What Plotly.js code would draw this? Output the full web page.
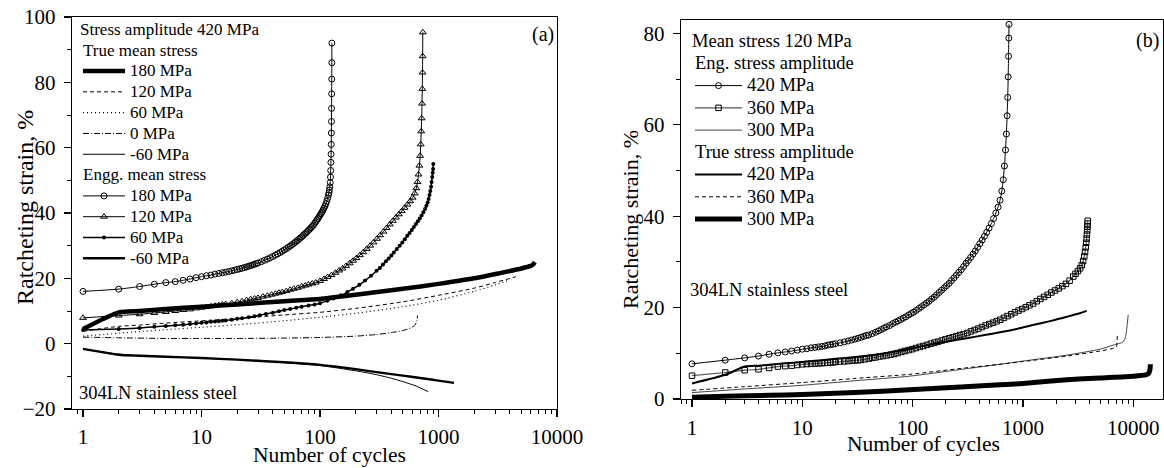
<!DOCTYPE html>
<html>
<head>
<meta charset="utf-8">
<script src="https://cdn.plot.ly/plotly-3.0.1.min.js"></script>
<style>html,body{margin:0;padding:0;background:#fff;}#chart{width:1164px;height:468px;}</style>
</head>
<body>
<div id="chart"></div>
<script>
// ---------------- DATA ----------------
// Panel (a): stress amplitude 420 MPa
const aTrue180_N = [1,2,3,5,10,20,50,100,200,500,1000,2000,3300,5000,6000,6300,6500];
const aTrue180_S = [4.5,9.6,10.0,10.6,11.3,12.0,13.0,13.7,15.0,16.8,18.3,20.0,21.6,23.0,23.8,24.3,25.0];
const aTrue120_N = [1,2,3,5,10,20,50,100,200,500,1000,2000,3000,4500];
const aTrue120_S = [3.8,5.3,5.7,6.3,7.0,7.7,8.8,9.6,10.8,12.8,14.8,17.0,18.7,20.5];
const aTrue60_N = [1,2,3,5,10,20,50,100,200,500,1000,2000,3000,4000];
const aTrue60_S = [2.3,3.2,3.7,4.3,5.0,5.8,7.0,8.1,9.3,11.3,13.3,16.0,18.0,19.5];
const aTrue0_N = [1,2,5,10,20,50,100,200,300,400,500,580,630,655,665];
const aTrue0_S = [2.0,1.8,1.6,1.6,1.6,1.7,1.9,2.3,2.8,3.4,4.0,4.8,5.6,6.8,8.6];
const aTrueM60_N = [1,2,3,5,10,20,50,100,200,300,400,500,650,820];
const aTrueM60_S = [-1.6,-3.2,-3.6,-4.0,-4.4,-4.9,-5.8,-6.7,-8.3,-9.5,-10.6,-11.6,-13.0,-14.7];

const aEngg180_N = [1,2,3,4,5,6,7,8,9,10,11,12,13,14,15,16,17,18,19,20,21,22,23,24,25,26,27,28,29,30,32,34,36,38,40,42,44,46,48,50,52,54,56,58,60,62,64,66,68,70,72,74,76,78,80,82,84,86,88,90,92,94,96,98,100,102,104,106,108,110,112,114,116,118,119,120,121,122,122.6,123.1,123.6,124.0,124.4,124.7,125.0,125.2,125.4,125.6,125.8,126];
const aEngg180_S = [16.0,16.7,17.5,18.2,18.7,19.0,19.4,19.8,20.2,20.5,20.8,21.0,21.3,21.5,21.7,21.9,22.1,22.3,22.5,22.7,22.9,23.1,23.3,23.5,23.7,23.9,24.1,24.3,24.5,24.7,25.1,25.5,25.9,26.3,26.7,27.1,27.5,27.9,28.3,28.7,29.1,29.5,29.9,30.3,30.7,31.1,31.5,31.9,32.3,32.7,33.1,33.5,33.9,34.3,34.7,35.1,35.5,35.9,36.3,36.8,37.3,37.8,38.3,38.8,39.3,39.8,40.3,40.9,41.5,42.1,42.8,43.6,44.5,45.5,46.2,47,48,49.3,51,53,55.5,58,61,64.5,68,72,76.5,81,86,92];
const aEngg120_N = [1,2,3,4,5,6,7,8,9,10,11,12,13,14,15,16,18,20,22,24,26,28,30,33,36,39,42,45,48,52,56,60,65,70,75,80,86,92,100,108,116,125,135,145,155,166,178,190,203,217,232,248,265,283,302,322,343,365,388,412,437,463,490,518,547,577,605,630,650,665,678,690,700,708,715,721,726,730,733,735,737];
const aEngg120_S = [7.9,8.6,9.0,9.4,9.7,10.0,10.3,10.5,10.8,11.0,11.2,11.4,11.6,11.8,12.0,12.1,12.4,12.7,13.0,13.3,13.6,13.8,14.0,14.4,14.7,15.0,15.3,15.6,15.8,16.1,16.5,16.8,17.1,17.5,17.8,18.1,18.4,18.7,19.2,19.8,20.4,21.0,21.7,22.4,23.0,23.8,24.6,25.4,26.2,27.1,28.0,29.0,30.0,31.0,32.1,33.2,34.3,35.4,36.5,37.6,38.6,39.6,40.6,41.6,42.6,43.6,44.7,46,47.6,49.5,51.8,54.5,57.5,61,65,69,73.5,78,83,88,95.3];
const aEngg60_N = [1,2,3,4,5,6,7,8,9,10,11,12,13,14,15,16,18,20,22,25,28,31,35,40,45,50,56,63,70,80,90,100,115,130,150,170,190,215,240,270,300,320,340,360,380,400,420,445,470,495,520,545,570,595,620,645,670,695,720,745,770,790,810,825,840,853,865,875,885,893,900,904];
const aEngg60_S = [4.2,4.5,4.8,5.2,5.4,5.6,5.8,6.0,6.2,6.4,6.5,6.7,6.8,6.9,7.0,7.1,7.3,7.6,7.8,8.1,8.4,8.7,9.1,9.5,9.9,10.3,10.6,11.0,11.3,11.7,12.0,12.4,13.1,13.8,14.8,15.8,16.8,18.0,19.3,20.8,22.3,23.2,24.2,25.2,26.1,27.0,27.9,29.0,30.0,31.0,32.0,33.0,33.9,34.8,35.7,36.6,37.5,38.3,39.2,40.2,41.2,42.2,43.2,44.3,45.5,46.7,48,49.5,51,52.3,53.5,55];
const aEnggM60_N = [1,2,3,5,10,20,50,100,200,300,500,700,1000,1350];
const aEnggM60_S = [-1.6,-3.4,-3.7,-4.0,-4.4,-4.9,-5.7,-6.5,-7.8,-8.7,-9.8,-10.5,-11.3,-12.0];

// Panel (b): mean stress 120 MPa
const bEng420_N = [1,2,3,4,5,6,7,8,9,10,11,12,13,14,15,16,17,18,19,20,22,24,26,28,30,32,34,36,38,40,43,46,49,52,55,58,62,66,70,74,78,82,87,92,97,102,108,114,120,127,134,141,149,157,165,174,183,193,203,214,225,237,249,262,276,290,305,320,336,353,370,388,407,427,448,470,493,517,542,568,595,620,643,663,680,695,708,719,728,735,741,745,748];
const bEng420_S = [7.7,8.5,9.0,9.4,9.8,10.1,10.3,10.5,10.7,10.9,11.0,11.2,11.3,11.4,11.5,11.6,11.8,11.9,12.0,12.1,12.3,12.5,12.7,12.9,13.1,13.3,13.5,13.7,13.9,14.0,14.3,14.6,14.9,15.2,15.5,15.8,16.1,16.5,16.8,17.1,17.4,17.7,18.0,18.4,18.7,19.0,19.4,19.8,20.2,20.6,21.0,21.4,21.9,22.3,22.8,23.3,23.8,24.3,24.8,25.3,25.9,26.5,27.1,27.7,28.3,29.0,29.7,30.3,31.0,31.7,32.4,33.2,34.0,34.8,35.6,36.5,37.4,38.4,39.5,40.7,42.0,43.5,45.5,48,51,54.5,58,62,66,70.5,75,79,82];
const bEng360_N = [1,2,3,4,5,6,7,8,9,10,11,12,13,14,15,16,17,18,19,20,22,24,26,28,30,32,34,37,40,43,46,50,54,58,63,68,73,79,85,92,99,107,116,125,135,146,158,170,184,198,214,231,249,269,290,313,338,365,394,425,459,495,535,577,623,672,725,783,845,912,984,1062,1146,1237,1335,1441,1555,1678,1811,1954,2109,2276,2456,2650,2860,3000,3150,3300,3420,3520,3600,3660,3710,3750,3780,3805,3825,3842,3856,3868];
const bEng360_S = [5.1,5.8,6.3,6.5,6.8,7.1,7.2,7.3,7.45,7.6,7.65,7.7,7.75,7.8,7.85,7.9,7.95,8.0,8.05,8.1,8.2,8.25,8.3,8.4,8.45,8.5,8.55,8.7,8.85,9.0,9.1,9.3,9.4,9.55,9.7,9.85,10.05,10.3,10.5,10.7,10.9,11.15,11.4,11.6,11.85,12.1,12.35,12.55,12.8,13.05,13.3,13.5,13.75,14.0,14.2,14.45,14.8,15.1,15.4,15.75,16.1,16.4,16.7,17.0,17.35,17.75,18.15,18.55,18.95,19.35,19.7,20.1,20.5,20.9,21.4,21.9,22.35,22.8,23.3,23.75,24.2,24.7,25.2,25.9,26.8,27.4,28.0,28.6,29.3,30.2,31.2,32.2,33.2,34.2,35.1,36.0,36.9,37.7,38.4,39.0];
const bEng300_N = [1,3,10,30,94,300,620,1000,2500,5000,6600,8100,8500,8800,9000];
const bEng300_S = [1.4,2.2,3.0,4.0,5.0,6.6,7.6,8.3,9.6,10.9,11.8,12.5,13.5,16.0,18.4];
const bTrue420_N = [1,2,3,4,5,7,10,15,20,30,50,94,150,220,310,450,620,900,1230,1800,2500,3200,3790];
const bTrue420_S = [3.4,5.3,7.1,7.3,7.5,7.8,8.1,8.5,8.8,9.2,9.8,11.0,12.0,12.7,13.3,14.0,14.6,15.4,16.2,17.1,18.0,18.7,19.3];
const bTrue360_N = [1,3,10,30,94,300,620,1000,2500,5000,6600,7000,7100,7180];
const bTrue360_S = [1.9,2.7,3.6,4.5,5.4,6.8,7.6,8.2,9.4,10.5,11.1,11.4,11.8,14.4];
const bTrue300_N = [1,2,5,10,30,94,300,620,1000,2500,5000,10000,13000,13800,14200,14300];
const bTrue300_S = [0.4,0.6,0.8,1.0,1.4,2.0,2.7,3.1,3.4,4.2,4.6,5.0,5.3,5.6,6.5,7.6];

const xTickVals = [1,10,100,1000,10000];
const xTickText = ['1','10','100','1000','10000'];
const aYTicks = [-20,0,20,40,60,80,100];
const bYTicks = [0,20,40,60,80];

// ---------------- STYLE ----------------
const FONT = 'Liberation Serif, Times New Roman, serif';
const W = 1164, H = 468;
const px = x => x / W;
const py = y => 1 - y / H;
const sp = (t, s) => '<span style="font-size:' + s + 'px">' + t + '</span>';

function tr(N, S, name, panel, group, gtitle, line, marker) {
  const t = {
    x: N, y: S, type: 'scatter', name: name,
    mode: marker ? 'lines+markers' : 'lines',
    line: Object.assign({color: 'black', width: 1, shape: 'spline', smoothing: 0.6}, line),
    xaxis: panel === 'a' ? 'x' : 'x2',
    yaxis: panel === 'a' ? 'y' : 'y2',
    legend: panel === 'a' ? 'legend' : 'legend2',
    legendgroup: group,
    hoverinfo: 'skip'
  };
  if (gtitle) t.legendgrouptitle = {text: gtitle, font: {family: FONT, size: panel === 'a' ? 13.7 : 14.8, color: 'black'}};
  if (marker) t.marker = marker;
  return t;
}

const LA = 17, LB = 18.5;
const traces = [
  tr(aTrue180_N, aTrue180_S, sp('180 MPa', LA), 'a', 'aT', sp('True mean stress', LA), {width: 4.5}),
  tr(aTrue120_N, aTrue120_S, sp('120 MPa', LA), 'a', 'aT', null, {width: 1, dash: '4px,3px'}),
  tr(aTrue60_N, aTrue60_S, sp('60 MPa', LA), 'a', 'aT', null, {width: 1.2, dash: '1px,3px'}),
  tr(aTrue0_N, aTrue0_S, sp('0 MPa', LA), 'a', 'aT', null, {width: 1, dash: '6px,2px,1px,2px'}),
  tr(aTrueM60_N, aTrueM60_S, sp('-60 MPa', LA), 'a', 'aT', null, {width: 1}),
  tr(aEngg180_N, aEngg180_S, sp('180 MPa', LA), 'a', 'aE', sp('Engg. mean stress', LA), {width: 1},
     {symbol: 'circle-open', size: 6, color: 'black', line: {width: 1, color: 'black'}}),
  tr(aEngg120_N, aEngg120_S, sp('120 MPa', LA), 'a', 'aE', null, {width: 1},
     {symbol: 'triangle-up-open', size: 6, color: 'black', line: {width: 1, color: 'black'}}),
  tr(aEngg60_N, aEngg60_S, sp('60 MPa', LA), 'a', 'aE', null, {width: 1.5},
     {symbol: 'circle', size: 4, color: 'black', line: {width: 0}}),
  tr(aEnggM60_N, aEnggM60_S, sp('-60 MPa', LA), 'a', 'aE', null, {width: 2.4}),

  tr(bEng420_N, bEng420_S, sp('420 MPa', LB), 'b', 'bE', sp('Eng. stress amplitude', LB), {width: 1},
     {symbol: 'circle-open', size: 6, color: 'black', line: {width: 1, color: 'black'}}),
  tr(bEng360_N, bEng360_S, sp('360 MPa', LB), 'b', 'bE', null, {width: 1.2, color: '#555'},
     {symbol: 'square-open', size: 5.5, color: 'black', line: {width: 1, color: 'black'}}),
  tr(bEng300_N, bEng300_S, sp('300 MPa', LB), 'b', 'bE', null, {width: 1, color: '#444'}),
  tr(bTrue420_N, bTrue420_S, sp('420 MPa', LB), 'b', 'bT', sp('True stress amplitude', LB), {width: 2}),
  tr(bTrue360_N, bTrue360_S, sp('360 MPa', LB), 'b', 'bT', null, {width: 1, dash: '4px,3px'}),
  tr(bTrue300_N, bTrue300_S, sp('300 MPa', LB), 'b', 'bT', null, {width: 5})
];

const axCommon = {
  showline: true, mirror: true, linecolor: 'black', linewidth: 1.2,
  ticks: 'outside', ticklen: 7, tickwidth: 1.2, tickcolor: 'black',
  showgrid: false, zeroline: false, automargin: false,
  tickfont: {family: FONT, size: 21, color: 'black'}
};
const xAx = (domain, range, anchor, so) => Object.assign({}, axCommon, {
  type: 'log', domain: domain, range: range, anchor: anchor,
  tickvals: xTickVals, ticktext: xTickText, ticklabelstandoff: so,
  minor: {ticks: 'outside', ticklen: 4, tickwidth: 1, tickcolor: 'black', dtick: 'D1', showgrid: false}
});
const yAx = (domain, range, anchor, tv) => Object.assign({}, axCommon, {
  domain: domain, range: range, anchor: anchor, tickvals: tv, ticklabelstandoff: 4,
  minor: {ticks: 'outside', ticklen: 4, tickwidth: 1, tickcolor: 'black', dtick: 10, showgrid: false}
});

const ann = (text, x, y, size, opts) => Object.assign({
  text: text, xref: 'paper', yref: 'paper', x: px(x), y: py(y), showarrow: false,
  font: {family: FONT, size: size, color: 'black'}, xanchor: 'center', yanchor: 'middle'
}, opts || {});

const legendBase = (x, y, fs, title, tsz, iw) => ({
  x: px(x), y: py(y), xanchor: 'left', yanchor: 'top',
  bgcolor: 'rgba(0,0,0,0)', borderwidth: 0,
  font: {family: FONT, size: fs, color: 'black'},
  title: {text: sp(title, tsz), font: {family: FONT, size: fs, color: 'black'}},
  traceorder: 'grouped', tracegroupgap: 0, itemwidth: iw, itemclick: false, itemdoubleclick: false
});

const layout = {
  width: W, height: H, margin: {l: 0, r: 0, t: 0, b: 0},
  paper_bgcolor: 'white', plot_bgcolor: 'white', showlegend: true,
  font: {family: FONT, color: 'black'},
  xaxis: xAx([px(72), px(557)], [-0.093, 4.0], 'y', 2),
  yaxis: yAx([1 - 409 / H, 1 - 17 / H], [-20, 100], 'x', aYTicks),
  xaxis2: xAx([px(681), px(1163)], [-0.1, 4.27], 'y2', 3),
  yaxis2: yAx([1 - 399 / H, 1 - 20 / H], [0, 82.95], 'x2', bYTicks),
  legend: legendBase(78, 17, 13.7, 'Stress amplitude 420 MPa', LA, 42),
  legend2: legendBase(690, 28, 14.8, 'Mean stress 120 MPa', LB, 47),
  annotations: [
    ann('(a)', 543, 35, 20),
    ann('(b)', 1147, 40, 20),
    ann('304LN stainless steel', 77, 393, 18.5, {xanchor: 'left'}),
    ann('304LN stainless steel', 688, 290, 18.5, {xanchor: 'left'}),
    ann('Number of cycles', 329, 455, 21.5),
    ann('Number of cycles', 923, 444, 21.5),
    ann('Ratcheting strain, %', 25, 208, 24, {textangle: -90}),
    ann('Ratcheting strain, %', 630, 220, 22, {textangle: -90})
  ]
};

Plotly.newPlot('chart', traces, layout, {displayModeBar: false, staticPlot: true});
</script>
</body>
</html>
